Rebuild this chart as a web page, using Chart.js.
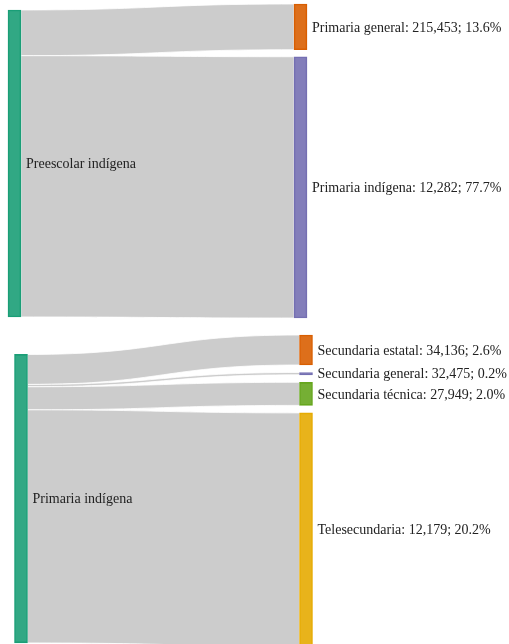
<!DOCTYPE html>
<html>
<head>
<meta charset="utf-8">
<script src="https://cdn.jsdelivr.net/npm/chart.js@4/dist/chart.umd.min.js"></script>
<style>
html,body{margin:0;padding:0;width:509px;height:644px;overflow:hidden;background:#fff;}
canvas{position:absolute;left:0;}
#top{top:0;}
#bottom{top:326px;}
</style>
</head>
<body>
<canvas id="top" width="509" height="326"></canvas>
<canvas id="bottom" width="509" height="330"></canvas>
<script>
(function(){
	'use strict';

	// preescolar -> primaria
	var preSource = 'Preescolar indígena';
	var preTargets = ['Primaria general', 'Primaria indígena'];
	var prePercent = [13.6, 77.7];
	var preStudents = ['215,453', '12,282'];

	// primaria -> secundaria
	var primSource = 'Primaria indígena';
	var primTargets = ['Secundaria estatal', 'Secundaria general', 'Secundaria técnica', 'Telesecundaria'];
	var primPercent = [2.6, 0.2, 2.0, 20.2];
	var primStudents = ['34,136', '32,475', '27,949', '12,179'];

	var sourceColor = '#1b9e77';
	var preColors = ['#d95f02', '#7570b3'];
	var primColors = ['#d95f02', '#7570b3', '#66a61e', '#e6ab02'];

	function fade(hex){
		var r = parseInt(hex.substr(1,2),16), g = parseInt(hex.substr(3,2),16), b = parseInt(hex.substr(5,2),16);
		return 'rgba('+r+','+g+','+b+',0.9)';
	}

	function sankey(canvas, source, targets, values, students, colors, pad){
		var total = values.reduce(function(a,b){ return a+b; }, 0);
		var n = values.length;
		var plotH = canvas.height - pad.top - pad.bottom;
		var k = (plotH - (n-1)*pad.gap)/total;
		var gap = pad.gap/k;

		var tStart = [];
		var pos = 0;
		values.forEach(function(v){
			tStart.push(pos);
			pos += v + gap;
		});
		var yMax = pos - gap;

		// source node sits on the weighted centre of its targets
		var c = 0;
		values.forEach(function(v,i){ c += v*(tStart[i]+v/2); });
		c = c/total;
		var sStart = c - total/2;

		var nodes = [{x:0, y:[sStart, sStart+total]}];
		values.forEach(function(v,i){
			nodes.push({x:1, y:[tStart[i], tStart[i]+v]});
		});
		var fills = [fade(sourceColor)].concat(colors.map(fade));
		var lines = [sourceColor].concat(colors);
		var names = [source].concat(targets.map(function(t,i){
			return t+': '+students[i]+'; '+values[i].toFixed(1)+'%';
		}));

		var links = {
			id:'links',
			beforeDatasetsDraw:function(chart){
				var ctx = chart.ctx;
				var y = chart.scales.y;
				var meta = chart.getDatasetMeta(0);
				var src = meta.data[0];
				var xs = src.x + src.width/2;
				var cum = sStart;
				ctx.save();
				values.forEach(function(v,i){
					var tgt = meta.data[i+1];
					var xt = tgt.x - tgt.width/2;
					var mid = (xs+xt)/2;
					var ys0 = y.getPixelForValue(cum);
					var ys1 = y.getPixelForValue(cum+v);
					var yt0 = y.getPixelForValue(tStart[i]);
					var yt1 = y.getPixelForValue(tStart[i]+v);
					cum += v;
					ctx.beginPath();
					ctx.moveTo(xs, ys0);
					ctx.bezierCurveTo(mid, ys0, mid, yt0, xt, yt0);
					ctx.lineTo(xt, yt1);
					ctx.bezierCurveTo(mid, yt1, mid, ys1, xs, ys1);
					ctx.closePath();
					ctx.fillStyle = '#cccccc';
					ctx.fill();
					ctx.strokeStyle = 'rgba(255,255,255,0.8)';
					ctx.lineWidth = 1;
					ctx.stroke();
				});
				ctx.restore();
			}
		};

		var labels = {
			id:'labels',
			afterDatasetsDraw:function(chart){
				var ctx = chart.ctx;
				var meta = chart.getDatasetMeta(0);
				ctx.save();
				ctx.font = '14px "Liberation Serif", serif';
				ctx.fillStyle = '#222222';
				ctx.textBaseline = 'middle';
				ctx.textAlign = 'left';
				meta.data.forEach(function(el,i){
					ctx.fillText(names[i], el.x + el.width/2 + 5, (el.y + el.base)/2 + 1);
				});
				ctx.restore();
			}
		};

		return new Chart(canvas,{
			type:'bar',
			data:{
				datasets:[
					{
						data:nodes,
						backgroundColor:fills,
						borderColor:lines,
						borderWidth:1,
						borderSkipped:false,
						barThickness:13,
						clip:false
					}
				]
			},
			options:{
				responsive:false,
				animation:false,
				layout:{padding:{top:pad.top, bottom:pad.bottom, left:pad.left, right:pad.right}},
				plugins:{legend:{display:false}, tooltip:{enabled:false}},
				scales:{
					x:{type:'linear', min:0, max:1, offset:false, display:false},
					y:{type:'linear', min:0, max:yMax, reverse:true, display:false}
				}
			},
			plugins:[links, labels]
		});
	}

	sankey(document.getElementById('top'), preSource, preTargets, prePercent, preStudents, preColors,
		{top:4, bottom:8, left:14.5, right:208.5, gap:7});
	sankey(document.getElementById('bottom'), primSource, primTargets, primPercent, primStudents, primColors,
		{top:9, bottom:10, left:21, right:203, gap:7.5});
})();
</script>
</body>
</html>
